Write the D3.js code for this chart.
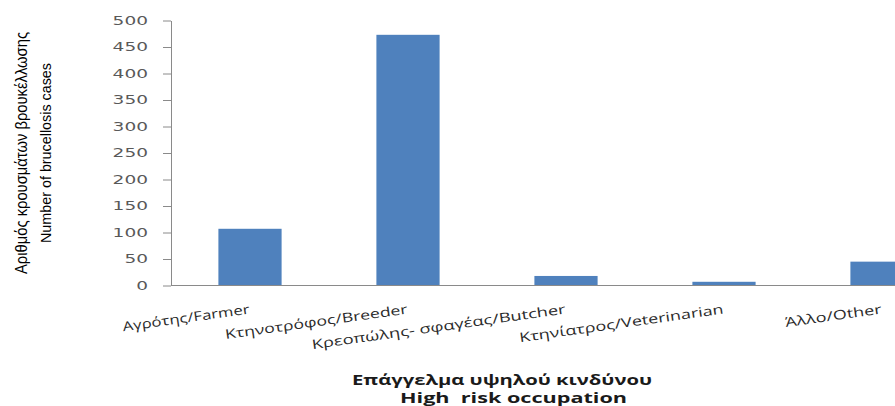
<!DOCTYPE html>
<html>
<head>
<meta charset="utf-8">
<script src="https://cdn.jsdelivr.net/npm/d3@7"></script>
<style>
  html, body { margin: 0; padding: 0; background: #ffffff; }
  svg { display: block; }
</style>
</head>
<body>
<svg id="chart" width="895" height="406"></svg>
<script>
// ---- data ----
const categories = ["Αγρότης/Farmer", "Κτηνοτρόφος/Breeder", "Κρεοπώλης- σφαγέας/Butcher", "Κτηνίατρος/Veterinarian", "Άλλο/Other"];
const cases = [107, 473, 18, 7, 45];
const yTicks = [0, 50, 100, 150, 200, 250, 300, 350, 400, 450, 500];
const yTitle = ["Αριθμός κρουσμάτων βρουκέλλωσης", "Number of brucellosis cases"];
const xTitle = ["Επάγγελμα υψηλού κινδύνου", "High  risk occupation"];

(function () {
// ---- layout ----
const svg = d3.select("#chart");
const plotLeft = 171, plotTop = 20.5, plotBottom = 285.5;
const step = 158;
const x = d3.scaleBand().domain(categories)
  .range([plotLeft, plotLeft + step * categories.length])
  .paddingInner(0.6).paddingOuter(0.3);
const y = d3.scaleLinear().domain([0, 500]).range([plotBottom, plotTop]);

const axisColor = "#8a8a8a";

// bars
svg.append("g").selectAll("rect").data(categories).join("rect")
  .attr("x", d => x(d))
  .attr("width", x.bandwidth())
  .attr("y", (d, i) => y(cases[i]))
  .attr("height", (d, i) => y(0) - y(cases[i]))
  .attr("fill", "#4f81bd");

// y axis
const yAxis = svg.append("g")
  .attr("transform", `translate(${plotLeft},0)`)
  .call(d3.axisLeft(y).tickValues(yTicks).tickSize(8).tickPadding(15).tickSizeOuter(0));
yAxis.select(".domain").attr("stroke", axisColor);
yAxis.selectAll(".tick line").attr("stroke", axisColor);
yAxis.selectAll(".tick text")
  .attr("fill", "#595959")
  .style("font-family", "DejaVu Sans, sans-serif")
  .style("font-size", "11.5px")
  .attr("x", -23)
  .attr("textLength", d => String(d).length * 11.8)
  .attr("lengthAdjust", "spacingAndGlyphs");

// x axis line
svg.append("line")
  .attr("x1", plotLeft).attr("x2", 895)
  .attr("y1", plotBottom).attr("y2", plotBottom)
  .attr("stroke", axisColor).attr("stroke-width", 1.2);

// x category labels (rotated, ending at category centre)
const labelLen = [128, 184, 256, 206, 97];
svg.append("g").selectAll("text").data(categories).join("text")
  .attr("transform", d => `translate(${x(d) + x.bandwidth() / 2},313.5) rotate(-8)`)
  .attr("text-anchor", "end")
  .attr("fill", "#2b2b2b")
  .style("font-family", "Open Sans, sans-serif")
  .style("font-size", "13px")
  .attr("textLength", (d, i) => labelLen[i])
  .attr("lengthAdjust", "spacingAndGlyphs")
  .text(d => d);

// y title (two rotated lines)
const yT = svg.append("g").attr("transform", "translate(0,153) rotate(-90)");
const yTLen = [242, 180];
const yTBase = [26.5, 51];
const yTSize = [16, 15.5];
yTitle.forEach((t, i) => {
  yT.append("text")
    .attr("x", 0).attr("y", yTBase[i])
    .attr("text-anchor", "middle")
    .attr("fill", "#000000")
    .style("font-family", "Liberation Sans Narrow, Liberation Sans, sans-serif")
    .style("font-size", yTSize[i] + "px")
    .attr("textLength", yTLen[i])
    .attr("lengthAdjust", "spacingAndGlyphs")
    .text(t);
});

// x title
const xTX = [352, 400], xTY = [385, 403], xTLen = [300, 227];
xTitle.forEach((t, i) => {
  svg.append("text")
    .attr("x", xTX[i]).attr("y", xTY[i])
    .attr("fill", "#1a1a1a")
    .style("font-family", "Open Sans, sans-serif")
    .style("font-weight", "bold")
    .style("font-size", "14px")
    .attr("textLength", xTLen[i])
    .attr("lengthAdjust", "spacingAndGlyphs")
    .style("white-space", "pre")
    .text(t);
});
})();
</script>
</body>
</html>
